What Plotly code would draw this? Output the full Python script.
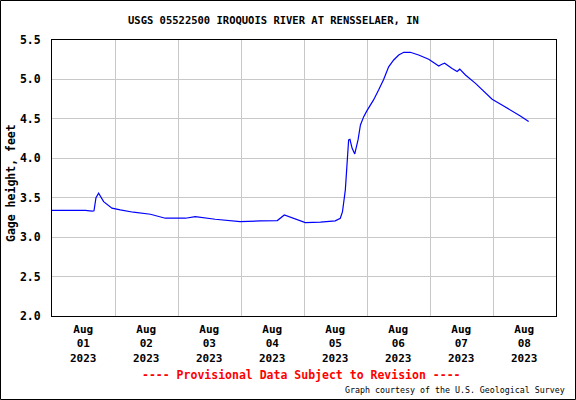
import plotly.graph_objects as go

# ---- data ----
times = [
    "2023-08-01 00:00", "2023-08-01 07:00", "2023-08-01 12:40", "2023-08-01 15:20",
    "2023-08-01 16:00", "2023-08-01 16:45", "2023-08-01 17:45", "2023-08-01 19:40",
    "2023-08-01 22:50", "2023-08-02 02:00", "2023-08-02 07:00", "2023-08-02 13:30",
    "2023-08-02 19:10", "2023-08-03 02:50", "2023-08-03 06:35", "2023-08-03 14:10",
    "2023-08-03 23:40", "2023-08-04 07:20", "2023-08-04 13:50", "2023-08-04 16:30",
    "2023-08-04 20:40", "2023-08-05 00:30", "2023-08-05 06:15", "2023-08-05 11:55",
    "2023-08-05 13:50", "2023-08-05 14:40", "2023-08-05 15:45", "2023-08-05 16:25",
    "2023-08-05 17:00", "2023-08-05 17:30", "2023-08-05 18:20", "2023-08-05 19:20",
    "2023-08-05 20:35", "2023-08-05 21:30", "2023-08-05 22:45", "2023-08-06 00:00",
    "2023-08-06 02:30", "2023-08-06 04:25", "2023-08-06 06:20", "2023-08-06 08:15",
    "2023-08-06 10:10", "2023-08-06 12:05", "2023-08-06 14:00", "2023-08-06 16:30",
    "2023-08-06 19:40", "2023-08-06 23:30", "2023-08-07 02:00", "2023-08-07 03:20",
    "2023-08-07 04:20", "2023-08-07 05:35", "2023-08-07 08:25", "2023-08-07 10:20",
    "2023-08-07 11:20", "2023-08-07 13:30", "2023-08-07 17:20", "2023-08-07 20:30",
    "2023-08-07 23:40", "2023-08-08 03:25", "2023-08-08 07:15", "2023-08-08 10:25",
    "2023-08-08 13:35",
]
gage_height = [
    3.34, 3.345, 3.34, 3.33,
    3.335, 3.50, 3.557, 3.45,
    3.367, 3.345, 3.316, 3.29,
    3.24, 3.24, 3.26, 3.227,
    3.197, 3.206, 3.21, 3.282,
    3.227, 3.185, 3.19, 3.206,
    3.24, 3.324, 3.60, 3.958,
    4.233, 4.24, 4.127, 4.055,
    4.233, 4.423, 4.528, 4.604,
    4.74, 4.866, 5.00, 5.16,
    5.247, 5.31, 5.344, 5.344,
    5.31, 5.255, 5.196, 5.17,
    5.19, 5.205, 5.14, 5.10,
    5.13, 5.056, 4.95, 4.845,
    4.748, 4.676, 4.604, 4.537,
    4.465,
]
tick_dates = ["2023-08-01 12:00", "2023-08-02 12:00", "2023-08-03 12:00", "2023-08-04 12:00",
              "2023-08-05 12:00", "2023-08-06 12:00", "2023-08-07 12:00", "2023-08-08 12:00"]
tick_labels = ["Aug<br>01<br>2023", "Aug<br>02<br>2023", "Aug<br>03<br>2023", "Aug<br>04<br>2023",
               "Aug<br>05<br>2023", "Aug<br>06<br>2023", "Aug<br>07<br>2023", "Aug<br>08<br>2023"]
y_ticks = [2.0, 2.5, 3.0, 3.5, 4.0, 4.5, 5.0, 5.5]

title_text = "USGS 05522500 IROQUOIS RIVER AT RENSSELAER, IN"
y_title = "Gage height, feet"
provisional = "---- Provisional Data Subject to Revision ----"
courtesy = "Graph courtesy of the U.S. Geological Survey"

W, H = 576, 400
ML, MR, MT, MB = 52, 20, 40, 84
PW, PH = W - ML - MR, H - MT - MB

def px(x):
    return (x - ML) / PW

def py(y):
    return (H - MB - y) / PH

BOLD = "DejaVu Sans Mono, monospace"

fig = go.Figure(go.Scatter(x=times, y=gage_height, mode="lines",
                           line=dict(color="#0000FF", width=1.2), hoverinfo="skip"))

grid = "#C8C8C8"
annotations = [
    dict(text=title_text, xref="paper", yref="paper", x=px(273.5), y=py(20),
         showarrow=False, xanchor="center", yanchor="middle",
         font=dict(family=BOLD, size=10.5, weight="bold")),
    dict(text=y_title, xref="paper", yref="paper", x=px(11), y=py(183),
         showarrow=False, xanchor="center", yanchor="middle", textangle=-90,
         font=dict(family=BOLD, size=11.5, weight="bold")),
    dict(text=provisional, xref="paper", yref="paper", x=px(301), y=py(375),
         showarrow=False, xanchor="center", yanchor="middle",
         font=dict(family=BOLD, size=11.5, color="#FF0000", weight="bold")),
    dict(text=courtesy, xref="paper", yref="paper", x=px(567), y=py(390),
         showarrow=False, xanchor="right", yanchor="middle",
         font=dict(family=BOLD, size=8.3, color="black")),
]
# three-line date tick labels, one block per day
for d, t in zip(tick_dates, tick_labels):
    annotations.append(dict(text=t, xref="x", yref="paper", x=d, y=py(343.5),
                            showarrow=False, xanchor="center", yanchor="middle",
                            font=dict(family=BOLD, size=11, weight="bold")))

fig.update_layout(
    width=W, height=H,
    margin=dict(l=ML, r=MR, t=MT, b=MB, pad=0),
    paper_bgcolor="white", plot_bgcolor="white",
    showlegend=False,
    font=dict(family=BOLD, color="black", size=11),
    xaxis=dict(
        type="date", range=["2023-08-01 00:00", "2023-08-09 00:00"],
        tickmode="array", tickvals=tick_dates, showticklabels=False,
        showgrid=False, ticks="",
        minor=dict(tickmode="linear", tick0="2023-08-01", dtick=86400000,
                   showgrid=True, gridcolor=grid, gridwidth=1, ticks=""),
        showline=True, linecolor="black", linewidth=1, mirror=True,
        zeroline=False, fixedrange=True,
    ),
    yaxis=dict(
        range=[2.0, 5.5], tickmode="array", tickvals=y_ticks,
        ticktext=[f"{v:.1f}" for v in y_ticks],
        showgrid=True, gridcolor=grid, gridwidth=1, ticks="", ticklabelstandoff=8,
        tickfont=dict(family=BOLD, size=11.5, weight="bold"),
        showline=True, linecolor="black", linewidth=1, mirror=True,
        zeroline=False, fixedrange=True,
    ),
    annotations=annotations,
    shapes=[
        dict(type="rect", xref="paper", yref="paper",
             x0=px(0.5), x1=px(W - 0.5), y0=py(H - 0.5), y1=py(0.5),
             line=dict(color="black", width=1), fillcolor="rgba(0,0,0,0)", layer="above"),
    ],
)

fig.write_html("out.html", config={"displayModeBar": False},
               post_script="document.body.style.margin='0';document.body.style.overflow='hidden';")
